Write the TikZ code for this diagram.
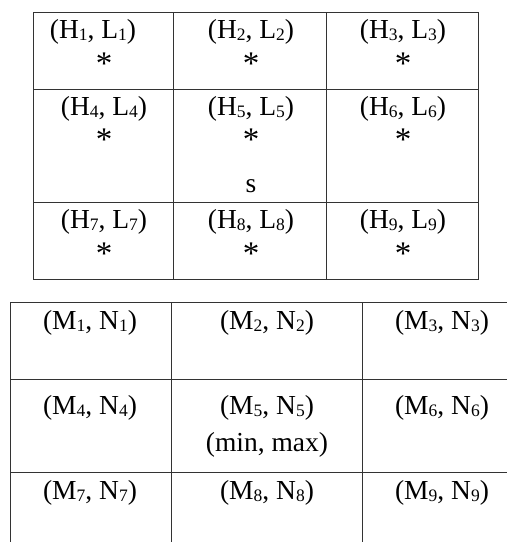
\documentclass[tikz,border=0pt]{standalone}
\usepackage{fontspec}
\setmainfont{Liberation Serif}
\usepackage{tikz}
\newcommand{\idx}[1]{\raisebox{-2pt}{\fontsize{17.5}{18}\selectfont #1}}

\begin{document}
\begin{tikzpicture}[x=1pt,y=-1pt,
  grid/.style={draw=black!80,line width=1pt},
  cell/.style={inner sep=0pt,font=\fontsize{27.5}{30}\selectfont},
  starmark/.style={inner sep=0pt,font=\fontsize{33}{30}\selectfont}]
\useasboundingbox (0,0) rectangle (507,542);
% upper table
\draw[grid] (33,12) rectangle (478,279);
\draw[grid] (173,12) -- (173,279);
\draw[grid] (326,12) -- (326,279);
\draw[grid] (33,89) -- (478,89);
\draw[grid] (33,202) -- (478,202);
\node[cell] (h1) at (93,32) {(H\idx{1}, L\idx{1})};
\node[cell] (h2) at (251,32) {(H\idx{2}, L\idx{2})};
\node[cell] (h3) at (403,32) {(H\idx{3}, L\idx{3})};
\node[cell] (h4) at (104,109) {(H\idx{4}, L\idx{4})};
\node[cell] (h5) at (251,109) {(H\idx{5}, L\idx{5})};
\node[cell] (h6) at (403,109) {(H\idx{6}, L\idx{6})};
\node[cell] (h7) at (104,222) {(H\idx{7}, L\idx{7})};
\node[cell] (h8) at (251,222) {(H\idx{8}, L\idx{8})};
\node[cell] (h9) at (403,222) {(H\idx{9}, L\idx{9})};
\node[starmark] (s1) at (104,64) {*};
\node[starmark] (s2) at (251,64) {*};
\node[starmark] (s3) at (403,64) {*};
\node[starmark] (s4) at (104,140) {*};
\node[starmark] (s5) at (251,140) {*};
\node[starmark] (s6) at (403,140) {*};
\node[starmark] (s7) at (104,254) {*};
\node[starmark] (s8) at (251,254) {*};
\node[starmark] (s9) at (403,254) {*};
\node[cell] (start) at (251,186) {s};
% lower table
\draw[grid] (507,302) -- (10,302) -- (10,542);
\draw[grid] (171,302) -- (171,542);
\draw[grid] (362,302) -- (362,542);
\draw[grid] (10,379) -- (507,379);
\draw[grid] (10,472) -- (507,472);
\node[cell] (m1) at (90,323) {(M\idx{1}, N\idx{1})};
\node[cell] (m2) at (267,323) {(M\idx{2}, N\idx{2})};
\node[cell] (m3) at (442,323) {(M\idx{3}, N\idx{3})};
\node[cell] (m4) at (90,408) {(M\idx{4}, N\idx{4})};
\node[cell] (m5) at (267,408) {(M\idx{5}, N\idx{5})};
\node[cell] (m6) at (442,408) {(M\idx{6}, N\idx{6})};
\node[cell] (minmax) at (267,445) {(min, max)};
\node[cell] (m7) at (90,493) {(M\idx{7}, N\idx{7})};
\node[cell] (m8) at (267,493) {(M\idx{8}, N\idx{8})};
\node[cell] (m9) at (442,493) {(M\idx{9}, N\idx{9})};
\end{tikzpicture}
\end{document}
